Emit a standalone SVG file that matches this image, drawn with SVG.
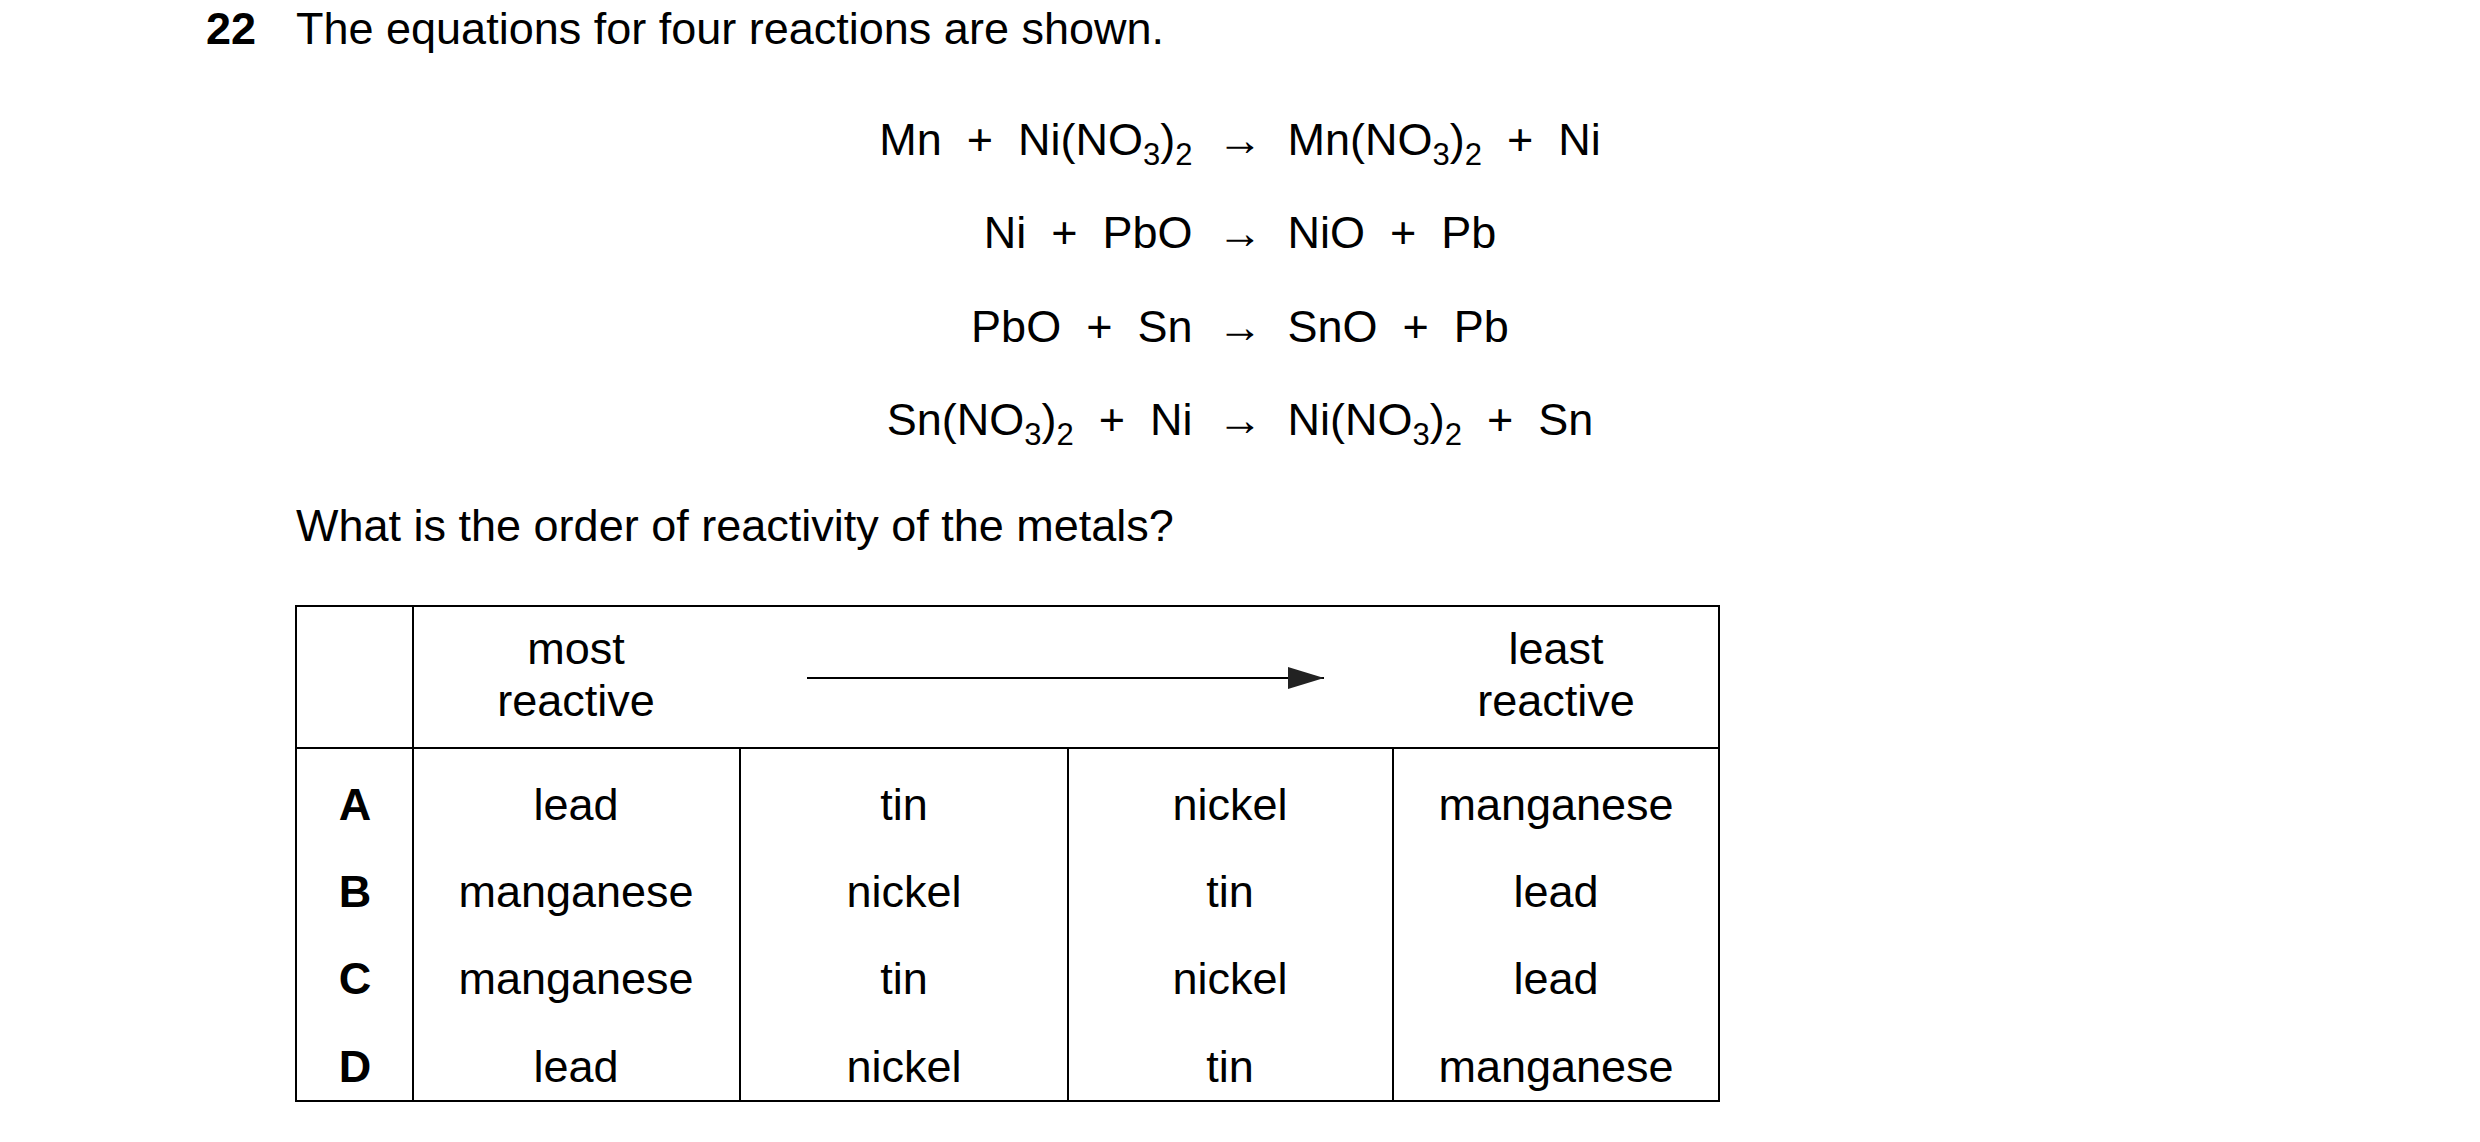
<svg xmlns="http://www.w3.org/2000/svg" width="2480" height="1142" viewBox="0 0 2480 1142">
<style>
text{font-family:"Liberation Sans",Arial,sans-serif;font-size:45px;fill:#000;white-space:pre}
.b{font-weight:bold}
.c{text-anchor:middle}
.s{font-size:31px}
line{stroke:#000;stroke-width:2}
</style>
<defs><marker id="ah" markerWidth="10" markerHeight="8" refX="9" refY="4" orient="auto" markerUnits="userSpaceOnUse" viewBox="0 0 10 8"><path d="M0,0 L10,4 L0,8z" fill="#222"/></marker>
<marker id="a2" markerWidth="36" markerHeight="22" refX="36" refY="11" orient="auto" markerUnits="userSpaceOnUse"><path d="M0,0 L36,11 L0,22z" fill="#222"/></marker></defs>
<g id="question">
<text x="206" y="44" class="b">22</text>
<text x="296" y="44">The equations for four reactions are shown.</text>
<text x="296" y="541">What is the order of reactivity of the metals?</text>
</g>
<g id="equations">
<text x="1240" y="155" class="c">Mn  +  Ni(NO<tspan class="s" dy="10">3</tspan><tspan dy="-10">)</tspan><tspan class="s" dy="10">2</tspan><tspan dy="-10">  →  Mn(NO</tspan><tspan class="s" dy="10">3</tspan><tspan dy="-10">)</tspan><tspan class="s" dy="10">2</tspan><tspan dy="-10">  +  Ni</tspan></text>
<text x="1240" y="248" class="c">Ni  +  PbO  →  NiO  +  Pb</text>
<text x="1240" y="342" class="c">PbO  +  Sn  →  SnO  +  Pb</text>
<text x="1240" y="435" class="c">Sn(NO<tspan class="s" dy="10">3</tspan><tspan dy="-10">)</tspan><tspan class="s" dy="10">2</tspan><tspan dy="-10">  +  Ni  →  Ni(NO</tspan><tspan class="s" dy="10">3</tspan><tspan dy="-10">)</tspan><tspan class="s" dy="10">2</tspan><tspan dy="-10">  +  Sn</tspan></text>
</g>
<g id="table">
<rect x="296" y="606" width="1423" height="495" fill="none" stroke="#000" stroke-width="2"/>
<line x1="296" y1="748" x2="1719" y2="748"/>
<line x1="413" y1="606" x2="413" y2="1101"/>
<line x1="740" y1="748" x2="740" y2="1101"/>
<line x1="1068" y1="748" x2="1068" y2="1101"/>
<line x1="1393" y1="748" x2="1393" y2="1101"/>
<text x="576" y="664" class="c">most</text><text x="576" y="716" class="c">reactive</text>
<text x="1556" y="664" class="c">least</text><text x="1556" y="716" class="c">reactive</text>
<g class="c">
<text x="355" y="820" class="b c">A</text><text x="576" y="820" class="c">lead</text><text x="904" y="820" class="c">tin</text><text x="1230" y="820" class="c">nickel</text><text x="1556" y="820" class="c">manganese</text>
<text x="355" y="907" class="b c">B</text><text x="576" y="907" class="c">manganese</text><text x="904" y="907" class="c">nickel</text><text x="1230" y="907" class="c">tin</text><text x="1556" y="907" class="c">lead</text>
<text x="355" y="994" class="b c">C</text><text x="576" y="994" class="c">manganese</text><text x="904" y="994" class="c">tin</text><text x="1230" y="994" class="c">nickel</text><text x="1556" y="994" class="c">lead</text>
<text x="355" y="1082" class="b c">D</text><text x="576" y="1082" class="c">lead</text><text x="904" y="1082" class="c">nickel</text><text x="1230" y="1082" class="c">tin</text><text x="1556" y="1082" class="c">manganese</text>
</g>
</g>
<g id="connectors">
<line x1="807" y1="678" x2="1324" y2="678" stroke="#222" stroke-width="4" marker-end="url(#a2)"/>
</g>
</svg>
